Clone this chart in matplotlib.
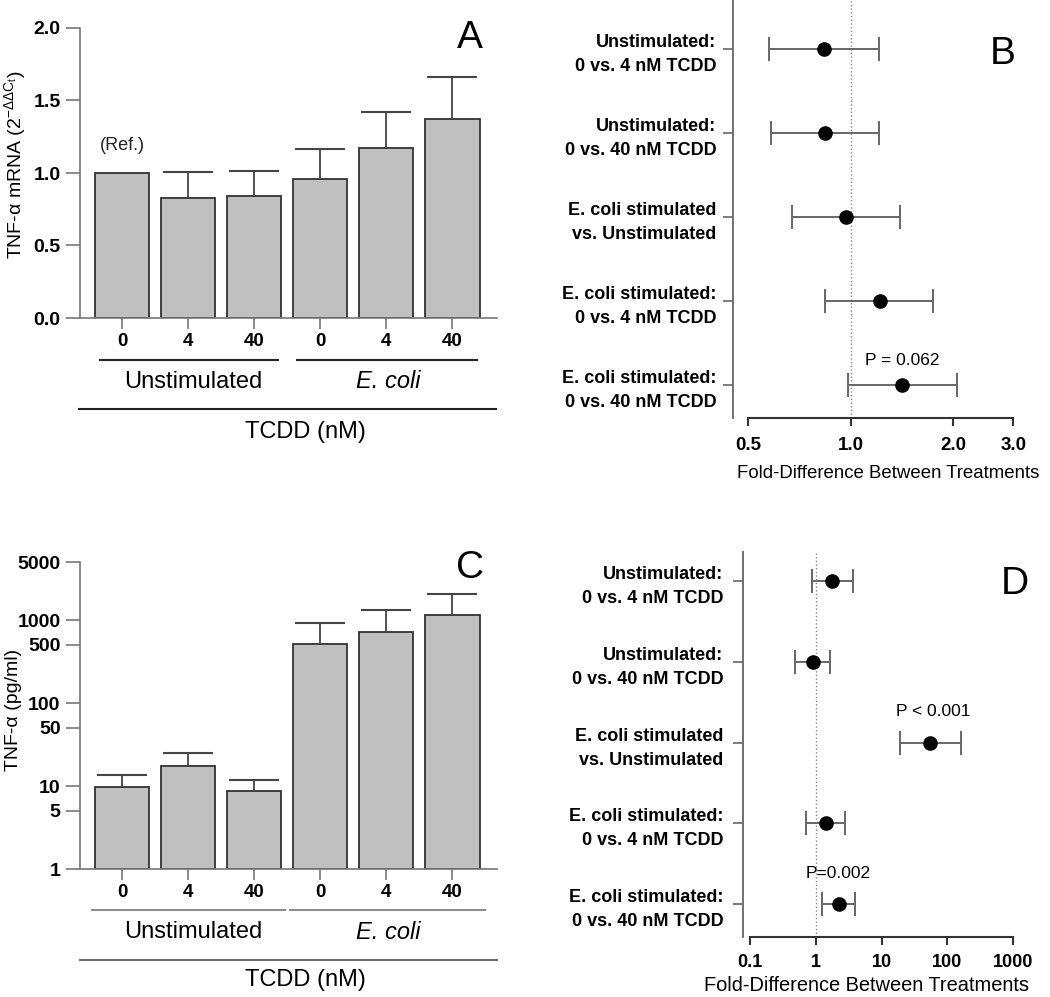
import matplotlib
matplotlib.use('Agg')
import matplotlib.pyplot as plt
import numpy as np
from matplotlib.ticker import NullLocator

plt.rcParams['font.family'] = ['Liberation Sans', 'DejaVu Sans']
plt.rcParams['mathtext.fontset'] = 'custom'
plt.rcParams['mathtext.rm'] = 'Liberation Sans'
plt.rcParams['mathtext.it'] = 'Liberation Sans:italic'

# ---------------- data ----------------
dose_labels = ['0', '4', '40', '0', '4', '40']
group_labels = ['Unstimulated', 'E. coli']
mrna_mean = [1.00, 0.83, 0.84, 0.96, 1.17, 1.37]
mrna_upper = [np.nan, 1.005, 1.012, 1.165, 1.42, 1.665]
tnf_mean = [9.7, 17.2, 8.6, 507, 714, 1137]
tnf_upper = [13.4, 25, 11.8, 910, 1306, 2080]

comparison_labels = ['Unstimulated:\n0 vs. 4 nM TCDD',
                     'Unstimulated:\n0 vs. 40 nM TCDD',
                     'E. coli stimulated\nvs. Unstimulated',
                     'E. coli stimulated:\n0 vs. 4 nM TCDD',
                     'E. coli stimulated:\n0 vs. 40 nM TCDD']
mrna_fold = [0.836, 0.843, 0.97, 1.22, 1.42]
mrna_lo = [0.576, 0.584, 0.672, 0.84, 0.986]
mrna_hi = [1.21, 1.21, 1.40, 1.75, 2.05]
prot_fold = [1.79, 0.90, 54, 1.42, 2.25]
prot_lo = [0.89, 0.49, 19.4, 0.70, 1.26]
prot_hi = [3.7, 1.65, 159, 2.77, 4.0]

b_ticks = [0.5, 1.0, 2.0, 3.0]
b_ticklabels = ['0.5', '1.0', '2.0', '3.0']
d_ticks = [0.1, 1, 10, 100, 1000]
d_ticklabels = ['0.1', '1', '10', '100', '1000']
a_yticks = [0.0, 0.5, 1.0, 1.5, 2.0]
c_yticks = [1, 5, 10, 50, 100, 500, 1000, 5000]

# ---------------- layout helpers ----------------
W, H = 1050, 997
fig = plt.figure(figsize=(W / 100, H / 100), dpi=100)


def box(l, t, r, b):
    return [l / W, 1 - b / H, (r - l) / W, (b - t) / H]


def line(x0, x1, y, color='#222222', lw=1.5):
    fig.add_artist(plt.Line2D([x0 / W, x1 / W], [1 - y / H, 1 - y / H],
                              transform=fig.transFigure, color=color, lw=lw))


def text(x, y, s, **kw):
    fig.text(x / W, 1 - y / H, s, ha=kw.pop('ha', 'center'), va=kw.pop('va', 'center'), **kw)


SPINE = '#777777'


def bar_panel(rect, means, uppers, log):
    ax = fig.add_axes(rect)
    x = np.arange(len(means))
    means = np.array(means, float)
    uppers = np.array(uppers, float)
    base = 1.0 if log else 0.0
    if log:
        ax.set_yscale('log')
    ax.bar(x, means - base, bottom=base, width=0.83, color='#c0c0c0',
           edgecolor='#333333', linewidth=1.3, zorder=2)
    m = ~np.isnan(uppers)
    ax.vlines(x[m], means[m], uppers[m], color='#444444', lw=1.3, zorder=3)
    ax.hlines(uppers[m], x[m] - 0.38, x[m] + 0.38, color='#444444', lw=1.5, zorder=3)
    ax.set_xlim(-0.636, 5.68)
    for s in ['top', 'right']:
        ax.spines[s].set_visible(False)
    for s in ['left', 'bottom']:
        ax.spines[s].set_color(SPINE)
        ax.spines[s].set_linewidth(1.2)
    ax.set_xticks(x)
    ax.set_xticklabels(dose_labels, fontsize=13.5, fontweight='bold')
    ax.tick_params(axis='x', length=8, color=SPINE, width=1.2, pad=3)
    ax.tick_params(axis='y', length=10, color=SPINE, width=1.2, pad=4,
                   labelsize=14)
    ax.yaxis.set_minor_locator(NullLocator())
    return ax


# ---------------- Panel A ----------------
axA = bar_panel(box(80, 28, 497, 318), mrna_mean, mrna_upper, log=False)
axA.set_ylim(0, 2.0)
axA.set_yticks(a_yticks)
axA.set_yticklabels([f'{v:.1f}' for v in a_yticks], fontweight='bold')
text(15, 165, 'TNF-α mRNA (2$^{\\mathregular{-ΔΔC_t}}$)', rotation=90, fontsize=14)
text(122, 145, '(Ref.)', fontsize=13, color='#222222')
text(470, 38, 'A', fontsize=28)
line(100, 278, 360)
line(297, 477, 360)
text(193, 382, group_labels[0], fontsize=17)
text(388, 382, group_labels[1], fontsize=17, style='italic')
line(79, 496, 409)
text(305, 432, 'TCDD (nM)', fontsize=17)

# ---------------- Panel C ----------------
axC = bar_panel(box(80, 562, 497, 869), tnf_mean, tnf_upper, log=True)
axC.set_ylim(1, 5000)
axC.set_yticks(c_yticks)
axC.set_yticklabels([str(v) for v in c_yticks], fontweight='bold')
text(14, 710, 'TNF-α (pg/ml)', rotation=90, fontsize=14)
text(470, 568, 'C', fontsize=28)
line(92, 285, 910, color='#888888', lw=1.4)
line(290, 485, 910, color='#888888', lw=1.4)
text(193, 932, group_labels[0], fontsize=17)
text(388, 932, group_labels[1], fontsize=17, style='italic')
line(80, 497, 960, color='#666666', lw=1.4)
text(305, 980, 'TCDD (nM)', fontsize=17)


# ---------------- forest panels ----------------
def forest_panel(rect, fold, lo, hi, xlim, ylim, xbounds, ticks, ticklabels,
                 ticksize, pad, ypad):
    ax = fig.add_axes(rect)
    ax.set_xscale('log')
    y = np.arange(len(fold))
    fold = np.array(fold, float)
    ax.axvline(1, color='#888888', ls=':', lw=1.0, zorder=1)
    ax.errorbar(fold, y, xerr=[fold - np.array(lo), np.array(hi) - fold],
                fmt='o', color='black', ms=9.5, ecolor='#666666',
                elinewidth=1.4, capsize=8.5, capthick=1.4, zorder=3)
    ax.set_xlim(*xlim)
    ax.set_ylim(*ylim)
    for s in ['top', 'right']:
        ax.spines[s].set_visible(False)
    ax.spines['left'].set_color('#666666')
    ax.spines['left'].set_linewidth(1.3)
    ax.spines['bottom'].set_color('#333333')
    ax.spines['bottom'].set_linewidth(1.5)
    ax.spines['bottom'].set_bounds(*xbounds)
    ax.set_xticks(ticks)
    ax.set_xticklabels(ticklabels, fontsize=ticksize, fontweight='bold')
    ax.xaxis.set_minor_locator(NullLocator())
    ax.tick_params(axis='x', length=6, width=1.5, color='#333333', pad=pad)
    ax.set_yticks(y)
    ax.set_yticklabels(comparison_labels, fontsize=13, fontweight='bold',
                       multialignment='right', linespacing=1.55)
    ax.tick_params(axis='y', length=7, width=1.2, color='#666666', pad=ypad)
    return ax


axB = forest_panel(box(733, 0, 1030, 418), mrna_fold, mrna_lo, mrna_hi,
                   (0.452, 3.36), (4.393, -0.583), (0.5, 3.0),
                   b_ticks, b_ticklabels, 13.5, 8, 5)
text(888, 473, 'Fold-Difference Between Treatments', fontsize=13.4)
text(1003, 54, 'B', fontsize=28)
text(902, 360, 'P = 0.062', fontsize=12.5)

axD = forest_panel(box(743, 552, 1030, 937), prot_fold, prot_lo, prot_hi,
                   (0.0783, 1811), (4.407, -0.358), (0.1, 1000),
                   d_ticks, d_ticklabels, 13, 6, 7)
text(866, 985, 'Fold-Difference Between Treatments', fontsize=14.4)
text(1015, 584, 'D', fontsize=28)
text(933, 711, 'P < 0.001', fontsize=12.5)
text(838, 873, 'P=0.002', fontsize=12.5)

fig.savefig('out.png', dpi=100)
